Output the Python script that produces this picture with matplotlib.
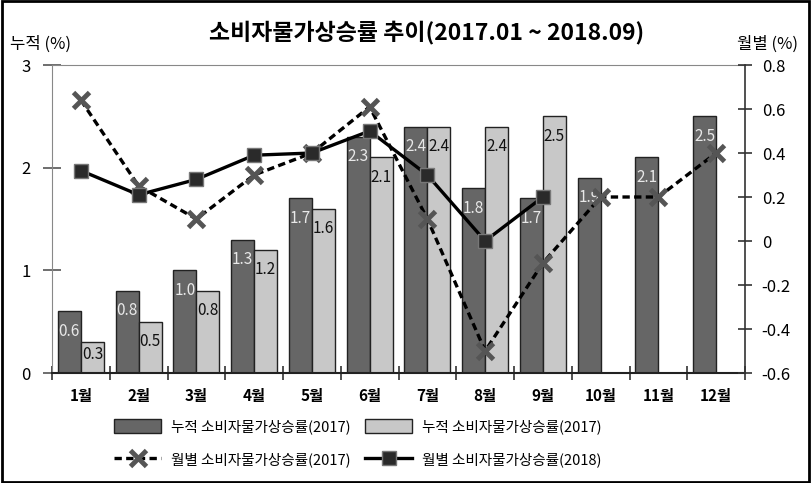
import matplotlib
matplotlib.use("Agg")
import matplotlib.pyplot as plt
from matplotlib.patches import Rectangle
import numpy as np

plt.rcParams['font.family'] = ['Noto Sans CJK KR', 'DejaVu Sans']

months = ['1월', '2월', '3월', '4월', '5월', '6월', '7월', '8월', '9월', '10월', '11월', '12월']
cum_2017 = [0.6, 0.8, 1.0, 1.3, 1.7, 2.3, 2.4, 1.8, 1.7, 1.9, 2.1, 2.5]
cum_2018 = [0.3, 0.5, 0.8, 1.2, 1.6, 2.1, 2.4, 2.4, 2.5]
mon_2017 = [0.64, 0.25, 0.1, 0.3, 0.4, 0.61, 0.1, -0.5, -0.1, 0.2, 0.2, 0.4]
mon_2018 = [0.32, 0.21, 0.28, 0.39, 0.4, 0.5, 0.3, 0.0, 0.2]

leg_cum_a = '누적 소비자물가상승률(2017)'
leg_cum_b = '누적 소비자물가상승률(2017)'
leg_mon_a = '월별 소비자물가상승률(2017)'
leg_mon_b = '월별 소비자물가상승률(2018)'

fig = plt.figure(figsize=(8.11, 4.83), dpi=100)
ax = fig.add_axes([52/811, 1-373/483, (745-52)/811, (373-65)/483])
ax2 = ax.twinx()

x = np.arange(len(months))
w = 0.4
b1 = ax.bar(x - w/2, cum_2017, w, color='#666666', edgecolor='#222222', lw=1, label=leg_cum_a, zorder=2)
b2 = ax.bar(x[:len(cum_2018)] + w/2, cum_2018, w, color='#c8c8c8', edgecolor='#222222', lw=1, label=leg_cum_b, zorder=2)

# value labels just under the bar tops
for xi, v in zip(x - w/2, cum_2017):
    ax.annotate(f'{v:.1f}', (xi, v), xytext=(0, -20), textcoords='offset pixels',
                ha='center', va='center', color='#e8e8e8', fontsize=11, zorder=3)
for xi, v in zip(x[:len(cum_2018)] + w/2, cum_2018):
    off = -12 if v < 0.4 else -20
    ax.annotate(f'{v:.1f}', (xi, v), xytext=(0, off), textcoords='offset pixels',
                ha='center', va='center', color='#111111', fontsize=11, zorder=3)

l1, = ax2.plot(x, mon_2017, ls=(0, (2.2, 1.3)), color='black', lw=2.4, marker='x',
               ms=11, mew=3.5, mec='#555555', label=leg_mon_a, zorder=4)
l2, = ax2.plot(x[:len(mon_2018)], mon_2018, color='black', lw=2.4, marker='s',
               ms=10, mfc='#2a2a2a', mec='#777777', mew=1, label=leg_mon_b, zorder=5)

ax.set_xlim(-0.5, 11.5)
ax.set_ylim(0, 3)
ax2.set_ylim(-0.6, 0.8)
ax.set_yticks([0, 1, 2, 3])
ax2.set_yticks(np.round(np.arange(-0.6, 0.81, 0.2), 1))
ax2.set_yticklabels(['-0.6', '-0.4', '-0.2', '0', '0.2', '0.4', '0.6', '0.8'])

ax.set_xticks(x)
ax.set_xticklabels(months, fontweight='bold', fontsize=11)
ax.set_xticks(np.arange(-0.5, 12, 1), minor=True)
ax.tick_params(axis='x', which='major', length=0, pad=11)
ax.tick_params(axis='x', which='minor', direction='inout', length=10, width=1.2, color='#333333')
ax.tick_params(axis='y', direction='inout', length=13, width=1.2, color='#555555', labelsize=12, pad=9)
ax2.tick_params(axis='y', direction='inout', length=10, width=1.2, color='#333333', labelsize=12, pad=7)

ax.spines['top'].set_color('#888888')
ax.spines['left'].set_color('#888888')
ax.spines['bottom'].set_color('#222222')
ax.spines['bottom'].set_linewidth(1.5)
ax2.spines['top'].set_visible(False)
ax2.spines['left'].set_visible(False)
ax2.spines['bottom'].set_visible(False)
ax.spines['right'].set_visible(False)
ax2.spines['right'].set_color('#333333')
ax2.spines['right'].set_linewidth(1.2)

fig.text(427/811, 1-32/483, '소비자물가상승률 추이(2017.01 ~ 2018.09)', ha='center', va='center',
         fontsize=16.5, fontweight='bold')
fig.text(10/811, 1-44/483, '누적 (%)', ha='left', va='center', fontsize=12)
fig.text(798/811, 1-44/483, '월별 (%)', ha='right', va='center', fontsize=12)

fig.legend(handles=[b1, l1, b2, l2], ncol=2, loc='center', bbox_to_anchor=(358/811, 1-443/483),
           frameon=False, fontsize=10.5, handlelength=3.2, handleheight=1.1, columnspacing=1.0,
           handletextpad=0.7, labelspacing=1.2)

fig.add_artist(Rectangle((0.002, 0.003), 0.996, 0.994, transform=fig.transFigure,
                         fill=False, edgecolor='black', lw=2))

fig.savefig('out.png', dpi=100)
